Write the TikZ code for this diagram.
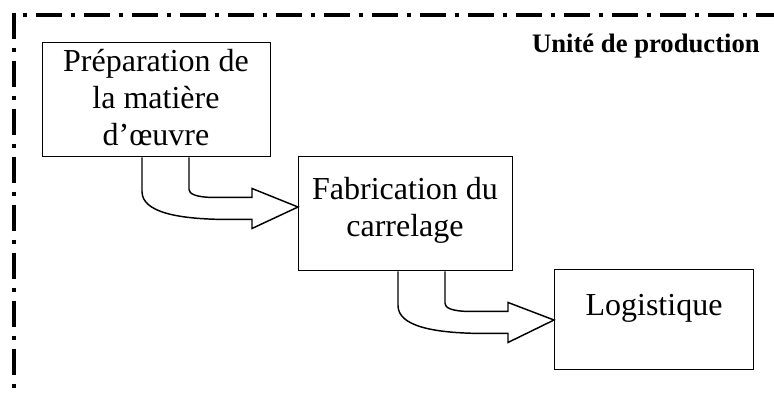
\documentclass[tikz,border=0pt]{standalone}
\usepackage{fontspec}
\setmainfont{Liberation Serif}
\usetikzlibrary{calc}

\tikzset{
  stage/.style={draw=black, line width=1.1pt, fill=white, inner sep=0pt, anchor=north west},
  stagetext/.style={align=center, anchor=base, inner sep=0pt,
    font=\fontsize{24}{27.4}\selectfont},
  frame/.style={line width=3pt, line cap=butt,
    dash pattern=on 19.5pt off 6.75pt on 3pt off 6.75pt},
  flow/.style={draw=black, line width=1.1pt, fill=white, line join=miter},
}

% Bent block arrow leaving the bottom of #1 and pointing at the left side of #2
\newcommand{\bentflow}[2]{%
  \draw[flow]
    ($(#1.south west)+(100,0)$) -- ++(0,34)
      .. controls +(0,20) and +(-55,0) .. ($(#1.south west)+(188,62)$)
      -- ($(#1.south west)+(210,62)$) -- ($(#1.south west)+(210,71)$)
      -- ($(#2.north west)+(0,51)$)
      -- ($(#1.south west)+(210,31)$) -- ($(#1.south west)+(210,40)$)
      -- ($(#1.south west)+(173,40)$)
      .. controls +(-20,0) and +(0,4) .. ($(#1.south west)+(147,32)$)
      -- ($(#1.south west)+(147,0)$);
}

\begin{document}
\begin{tikzpicture}[x=0.75pt, y=-0.75pt]
  \useasboundingbox (0,0) rectangle (774,394);

  % dash-dotted frame of the production unit (top and left sides)
  \draw[frame, dash phase=19.5pt] (14,14.5) -- (776,14.5);
  \draw[frame] (14,12.5) -- (14,396);

  \node[font=\fontsize{20}{24}\selectfont\bfseries, anchor=base east, inner sep=0pt]
    (unit) at (760,52) {Unité de production};

  % process stages
  \node[stage, minimum width=171pt, minimum height=85.5pt] (prep) at (42,42) {};
  \node[stage, minimum width=160.5pt, minimum height=85.5pt] (fab) at (298,156) {};
  \node[stage, minimum width=149.25pt, minimum height=75pt] (log) at (554,269) {};

  % labels, placed by the baseline of their last line
  \node[stagetext] (preptxt) at (156,145) {Préparation de\\la matière\\d’œuvre};
  \node[stagetext] (fabtxt) at (405,236) {Fabrication du\\carrelage};
  \node[stagetext] (logtxt) at (654,315) {Logistique};

  % flows between stages
  \bentflow{prep}{fab}
  \bentflow{fab}{log}
\end{tikzpicture}
\end{document}
